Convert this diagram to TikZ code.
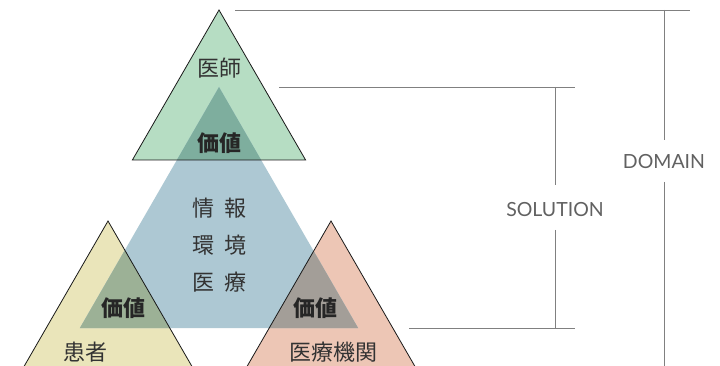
\documentclass[tikz,border=0pt]{standalone}
\usepackage{fontspec}
\newfontfamily\jp{Noto Sans CJK JP}
\newfontfamily\lat{Lato}
\begin{document}
\begin{tikzpicture}[x=1pt,y=-1pt,
  jtext/.style={font=\jp\fontsize{22}{25}\selectfont, text=black!80, inner sep=0pt},
  vtext/.style={font=\jp\bfseries\fontsize{22}{25}\selectfont, text=black!85, inner sep=0pt},
  ltext/.style={font=\lat\fontsize{19.5}{22}\selectfont, text=black!62, inner sep=0pt},
  guide/.style={draw=black!50, line width=0.9pt},
  outline/.style={draw=black!90, line width=0.8pt, line join=miter}]
\definecolor{cgreen}{HTML}{B6DDC3}
\definecolor{cblue}{HTML}{ADC8D3}
\definecolor{cyellow}{HTML}{EAE5BA}
\definecolor{cpink}{HTML}{EDC6B5}
\definecolor{cgb}{HTML}{7EAE9E}
\definecolor{cyb}{HTML}{9CB196}
\definecolor{cpb}{HTML}{A39E98}
\useasboundingbox (0,0) rectangle (720,366);
\clip (0,0) rectangle (720,366);
% triangle corners
\coordinate (gA) at (219,10);   \coordinate (gL) at (132.4,160); \coordinate (gR) at (305.6,160);
\coordinate (yA) at (108,221);  \coordinate (yL) at (21.4,371);  \coordinate (yR) at (194.6,371);
\coordinate (pA) at (331,221);  \coordinate (pL) at (244.4,371); \coordinate (pR) at (417.6,371);
\coordinate (bA) at (219,87);   \coordinate (bL) at (79.9,328);  \coordinate (bR) at (358.1,328);
% fills
\fill[cgreen] (gA) -- (gL) -- (gR) -- cycle;
\fill[cyellow] (yA) -- (yL) -- (yR) -- cycle;
\fill[cpink] (pA) -- (pL) -- (pR) -- cycle;
\fill[cblue] (bA) -- (bL) -- (bR) -- cycle;
\begin{scope}
  \clip (bA) -- (bL) -- (bR) -- cycle;
  \fill[cgb] (gA) -- (gL) -- (gR) -- cycle;
  \fill[cyb] (yA) -- (yL) -- (yR) -- cycle;
  \fill[cpb] (pA) -- (pL) -- (pR) -- cycle;
\end{scope}
\draw[outline] (gA) -- (gL) -- (gR) -- cycle;
\draw[outline] (yA) -- (yL) -- (yR) -- cycle;
\draw[outline] (pA) -- (pL) -- (pR) -- cycle;
% texts
\node[jtext] (doctor) at (219,68) {医師};
\node[vtext] (v1) at (219,143) {価値};
\node[vtext] (v2) at (123,308) {価値};
\node[vtext] (v3) at (315,308) {価値};
\node[jtext] (patient) at (85,352) {患者};
\node[jtext] (inst) at (333,352) {医療機関};
\node[jtext] (c1) at (219.5,208) {情\hspace{10pt}報};
\node[jtext] (c2) at (219.5,245) {環\hspace{10pt}境};
\node[jtext] (c3) at (219.5,282) {医\hspace{10pt}療};
% guides
\coordinate (d1) at (235,10); \coordinate (d2) at (690,10); \coordinate (dv) at (664,10);
\coordinate (dbot) at (664,366);
\node[ltext] (domain) at (664,162) {DOMAIN};
\draw[guide] (d1) -- (d2);
\draw[guide] (dv) -- (664,140);
\draw[guide] (664,182) -- (dbot);
\coordinate (s1) at (279,87); \coordinate (s2) at (575,87);
\coordinate (s3) at (409,328); \coordinate (s4) at (575,328);
\node[ltext] (solution) at (555,210) {SOLUTION};
\draw[guide] (s1) -- (s2);
\draw[guide] (s3) -- (s4);
\draw[guide] (555,87) -- (555,185);
\draw[guide] (555,230) -- (555,328);
\end{tikzpicture}
\end{document}
